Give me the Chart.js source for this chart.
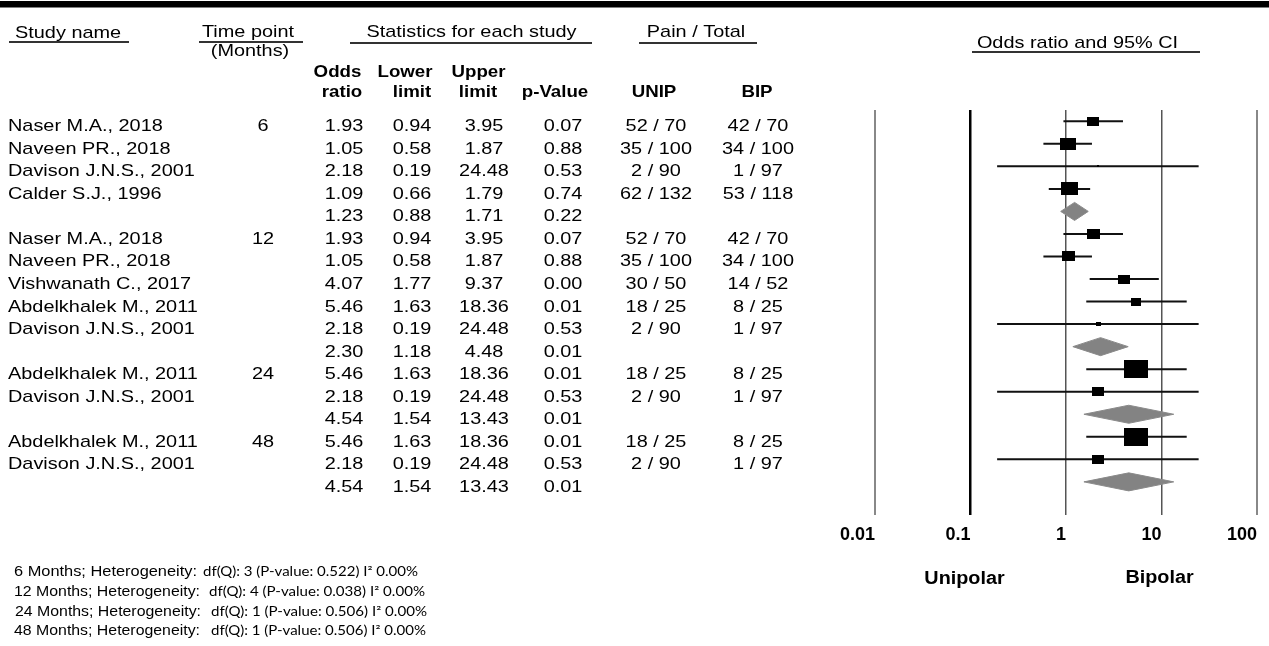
<!DOCTYPE html>
<html>
<head>
<meta charset="utf-8">
<script src="https://cdn.jsdelivr.net/npm/chart.js@4.4.1/dist/chart.umd.min.js"></script>
<style>
  html, body { margin: 0; padding: 0; background: #fff; }
  #wrap { width: 1269px; height: 646px; position: relative; }
  canvas { display: block; }
</style>
</head>
<body>
<div id="wrap"><canvas id="forest" width="1269" height="646"></canvas></div>
<script>
// ---- study rows (top to bottom); blank name = pooled estimate of the group above ----
const studyNames = [
  "Naser M.A., 2018", "Naveen PR., 2018", "Davison J.N.S., 2001", "Calder S.J., 1996", "",
  "Naser M.A., 2018", "Naveen PR., 2018", "Vishwanath C., 2017", "Abdelkhalek M., 2011", "Davison J.N.S., 2001", "",
  "Abdelkhalek M., 2011", "Davison J.N.S., 2001", "",
  "Abdelkhalek M., 2011", "Davison J.N.S., 2001", ""
];
const timePoints = ["6", "", "", "", "", "12", "", "", "", "", "", "24", "", "", "48", "", ""];
const oddsRatio  = [1.93, 1.05, 2.18, 1.09, 1.23, 1.93, 1.05, 4.07, 5.46, 2.18, 2.30, 5.46, 2.18, 4.54, 5.46, 2.18, 4.54];
const lowerLimit = [0.94, 0.58, 0.19, 0.66, 0.88, 0.94, 0.58, 1.77, 1.63, 0.19, 1.18, 1.63, 0.19, 1.54, 1.63, 0.19, 1.54];
const upperLimit = [3.95, 1.87, 24.48, 1.79, 1.71, 3.95, 1.87, 9.37, 18.36, 24.48, 4.48, 18.36, 24.48, 13.43, 18.36, 24.48, 13.43];
const pValues    = ["0.07", "0.88", "0.53", "0.74", "0.22", "0.07", "0.88", "0.00", "0.01", "0.53", "0.01", "0.01", "0.53", "0.01", "0.01", "0.53", "0.01"];
const painUnip   = ["52 / 70", "35 / 100", "2 / 90", "62 / 132", "", "52 / 70", "35 / 100", "30 / 50", "18 / 25", "2 / 90", "", "18 / 25", "2 / 90", "", "18 / 25", "2 / 90", ""];
const painBip    = ["42 / 70", "34 / 100", "1 / 97", "53 / 118", "", "42 / 70", "34 / 100", "14 / 52", "8 / 25", "1 / 97", "", "8 / 25", "1 / 97", "", "8 / 25", "1 / 97", ""];
// relative study weight within its group (null = pooled row, drawn as a diamond)
const relWeight  = [0.52, 0.69, 0.08, 0.72, null, 0.57, 0.55, 0.50, 0.43, 0.21, null, 1.0, 0.50, null, 1.0, 0.50, null];

const axisTicks      = [0.01, 0.1, 1, 10, 100];
const axisTickLabels = ["0.01", "0.1", "1", "10", "100"];

const hetLabels = ["6 Months; Heterogeneity:", "12 Months; Heterogeneity:", "24 Months; Heterogeneity:", "48 Months; Heterogeneity:"];
const hetStats  = ["df(Q): 3 (P-value: 0.522) I\u00B2 0.00%", "df(Q): 4 (P-value: 0.038) I\u00B2 0.00%",
                   "df(Q): 1 (P-value: 0.506) I\u00B2 0.00%", "df(Q): 1 (P-value: 0.506) I\u00B2 0.00%"];

// ---- drawing helpers ----
const SANS = '"Liberation Sans", Arial, Helvetica, sans-serif';
const BOX_MAX_W = 23.5;     // px width of the heaviest study's square
const BOX_ASPECT = 0.76;    // squares are drawn a little wider than tall
const DIAMOND_HALF = 0.4;   // half height of pooled diamonds, in row units

function makeBox(weight) {
  const w = Math.max(2, Math.round(BOX_MAX_W * weight));
  const h = Math.max(2, Math.round(w * BOX_ASPECT));
  const c = document.createElement('canvas');
  c.width = w; c.height = h;
  const g = c.getContext('2d');
  g.fillStyle = '#000';
  g.fillRect(0, 0, w, h);
  return c;
}

const datasets = [];
const boxPoints = [];
const boxStyles = [];

studyNames.forEach((name, i) => {
  if (relWeight[i] === null) {
    // pooled estimate: closed diamond lower -> top -> upper -> bottom
    datasets.push({
      label: 'pooled-' + i,
      showLine: true,
      data: [
        {x: lowerLimit[i], y: i},
        {x: oddsRatio[i], y: i - DIAMOND_HALF},
        {x: upperLimit[i], y: i},
        {x: oddsRatio[i], y: i + DIAMOND_HALF},
        {x: lowerLimit[i], y: i}
      ],
      borderColor: '#8a8a8a',
      borderWidth: 1,
      backgroundColor: '#838383',
      fill: 'shape',
      pointRadius: 0,
      tension: 0,
      order: 1
    });
  } else {
    // confidence interval whisker
    datasets.push({
      label: 'ci-' + i,
      showLine: true,
      data: [{x: lowerLimit[i], y: i}, {x: upperLimit[i], y: i}],
      borderColor: '#111',
      borderWidth: 2,
      pointRadius: 0,
      fill: false,
      order: 2
    });
    boxPoints.push({x: oddsRatio[i], y: i});
    boxStyles.push(makeBox(relWeight[i]));
  }
});

datasets.push({
  label: 'odds-ratio',
  data: boxPoints,
  pointStyle: boxStyles,
  pointRadius: 6,
  backgroundColor: '#000',
  borderWidth: 0,
  showLine: false,
  order: 0
});

function txt(ctx, s, x, y, font, align, sx, fitW) {
  if (!s) return;
  ctx.save();
  ctx.font = font;
  const w = ctx.measureText(s).width;
  const k = fitW ? fitW / w : (sx || 1);
  const W = w * k;
  const left = align === 'center' ? x - W / 2 : align === 'right' ? x - W : x;
  ctx.translate(left, y);
  ctx.scale(k, 1);
  ctx.textAlign = 'left';
  ctx.textBaseline = 'alphabetic';
  ctx.fillStyle = '#000';
  ctx.fillText(s, 0, 0);
  ctx.restore();
}

function hline(ctx, x1, x2, y, color, width) {
  ctx.save();
  ctx.fillStyle = color;
  ctx.fillRect(x1, y - width / 2, x2 - x1, width);
  ctx.restore();
}

const tablePlugin = {
  id: 'forestTable',
  afterDraw(chart) {
    const ctx = chart.ctx;
    const ys = chart.scales.y;
    const xs = chart.scales.x;
    const REG = '17px ' + SANS;
    const BOLD = 'bold 17px ' + SANS;
    const SX = 1.17;

    // top rule
    ctx.save();
    ctx.fillStyle = '#000';
    ctx.fillRect(0, 1, chart.width, 6.5);
    ctx.restore();

    // group headers
    txt(ctx, 'Study name', 15, 38, REG, 'left', SX);
    hline(ctx, 9, 129, 42, '#333', 2);
    txt(ctx, 'Time point', 248, 37, REG, 'center', SX);
    txt(ctx, '(Months)', 250, 56, REG, 'center', SX);
    hline(ctx, 199, 303, 42, '#333', 2);
    txt(ctx, 'Statistics for each study', 471.5, 37, REG, 'center', SX);
    hline(ctx, 350, 592, 43, '#333', 2);
    txt(ctx, 'Pain / Total', 696, 37, REG, 'center', SX);
    hline(ctx, 639, 757, 43, '#333', 2);
    txt(ctx, 'Odds ratio and 95% CI', 1077.5, 48, REG, 'center', SX);
    hline(ctx, 972, 1200, 52, '#333', 2);

    // column headers
    txt(ctx, 'Odds', 337.5, 77, BOLD, 'center', 1.1);
    txt(ctx, 'ratio', 342, 96.5, BOLD, 'center', 1.1);
    txt(ctx, 'Lower', 405, 77, BOLD, 'center', 1.1);
    txt(ctx, 'limit', 412, 96.5, BOLD, 'center', 1.1);
    txt(ctx, 'Upper', 478.5, 77, BOLD, 'center', 1.1);
    txt(ctx, 'limit', 478, 96.5, BOLD, 'center', 1.1);
    txt(ctx, 'p-Value', 555, 96.5, BOLD, 'center', 1.1);
    txt(ctx, 'UNIP', 654, 96.5, BOLD, 'center', 1.1);
    txt(ctx, 'BIP', 757, 96.5, BOLD, 'center', 1.1);

    // table rows, aligned with the plot rows
    studyNames.forEach((name, i) => {
      const y = ys.getPixelForValue(i) + 10;
      txt(ctx, name, 8, y, REG, 'left', SX);
      txt(ctx, timePoints[i], 263, y, REG, 'center', SX);
      txt(ctx, oddsRatio[i].toFixed(2), 344, y, REG, 'center', SX);
      txt(ctx, lowerLimit[i].toFixed(2), 412, y, REG, 'center', SX);
      txt(ctx, upperLimit[i].toFixed(2), 484, y, REG, 'center', SX);
      txt(ctx, pValues[i], 563, y, REG, 'center', SX);
      txt(ctx, painUnip[i], 656, y, REG, 'center', SX);
      txt(ctx, painBip[i], 758, y, REG, 'center', SX);
    });

    // favour labels under the axis
    txt(ctx, 'Unipolar', xs.getPixelForValue(0.1) - 6, 584, 'bold 18px ' + SANS, 'center', 1.1);
    txt(ctx, 'Bipolar', xs.getPixelForValue(10) - 2, 583, 'bold 18px ' + SANS, 'center', 1.1);

    // heterogeneity notes
    const hetY = [576, 596, 616, 635];
    const hetX = [14, 14, 15, 14];
    const hetW = [183, 186, 186, 186];
    const statX = [203, 209, 211, 211];
    const statW = [215, 216, 216, 215];
    hetLabels.forEach((s, i) => {
      txt(ctx, s, hetX[i], hetY[i], '14px ' + SANS, 'left', null, hetW[i]);
      txt(ctx, hetStats[i], statX[i], hetY[i], '13px Lato, "Open Sans", sans-serif', 'left', null, statW[i]);
    });
  }
};

const gridColor = v => v === 0.1 ? '#000' : (v === 1 || v === 10 ? '#555' : '#888');
const gridWidth = v => v === 0.1 ? 2.5 : (v === 1 || v === 10 ? 1.5 : 2);

new Chart(document.getElementById('forest'), {
  type: 'scatter',
  data: { datasets },
  options: {
    responsive: false,
    devicePixelRatio: 1,
    animation: false,
    events: [],
    layout: { padding: { left: 875, right: 12, top: 110, bottom: 0 } },
    plugins: { legend: { display: false }, tooltip: { enabled: false } },
    scales: {
      x: {
        type: 'logarithmic',
        position: 'bottom',
        min: 0.01,
        max: 100,
        afterBuildTicks: s => { s.ticks = axisTicks.map(v => ({ value: v })); },
        afterFit: s => { s.height = 131; },
        border: { display: false },
        grid: {
          drawTicks: false,
          color: c => gridColor(c.tick ? c.tick.value : 0),
          lineWidth: c => gridWidth(c.tick ? c.tick.value : 0)
        },
        ticks: {
          autoSkip: false,
          maxRotation: 0,
          minRotation: 0,
          align: 'end',
          padding: 9,
          color: '#000',
          font: { family: SANS, size: 18, weight: 'bold' },
          callback: (v, i) => axisTickLabels[i]
        }
      },
      y: {
        type: 'linear',
        reverse: true,
        min: -0.5,
        max: 17.47,
        display: false
      }
    }
  },
  plugins: [tablePlugin]
});
</script>
</body>
</html>
